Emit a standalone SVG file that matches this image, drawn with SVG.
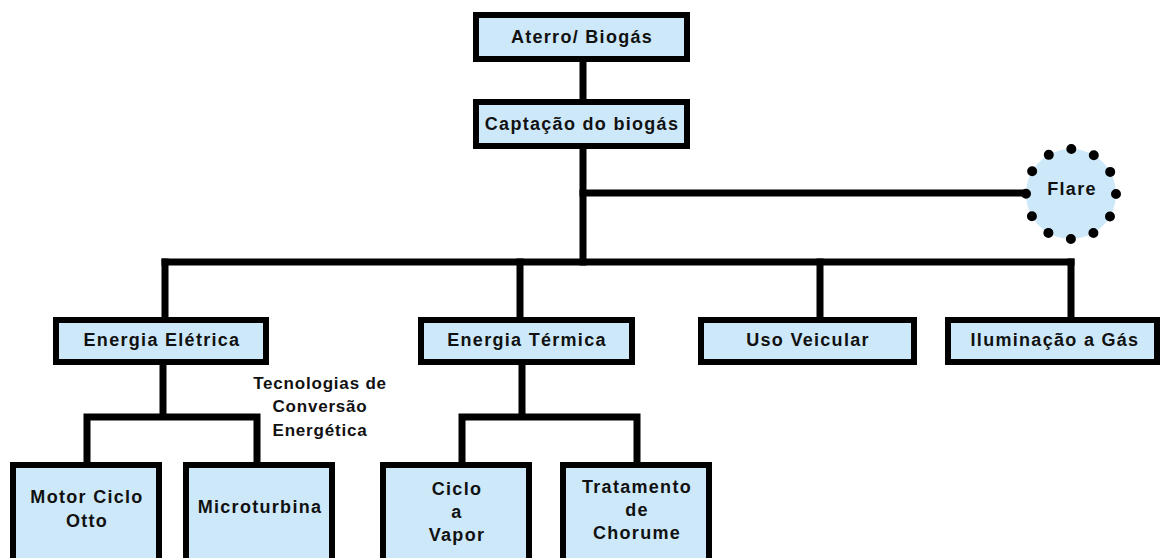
<svg xmlns="http://www.w3.org/2000/svg" width="1160" height="558" viewBox="0 0 1160 558">
<style>
.box{fill:#cde9f9;stroke:#000;stroke-width:6}
.ln{fill:none;stroke:#000;stroke-width:7;stroke-linecap:square}
text{font-family:"Liberation Sans",Arial,sans-serif;font-weight:bold;font-size:18px;letter-spacing:1.3px;fill:#111;text-anchor:middle}
.note{font-size:17px;letter-spacing:0.8px}
</style>
<rect width="1160" height="558" fill="#fff"/>
<g id="connectors">
<path class="ln" d="M583 60V100"/>
<path class="ln" d="M583 148V262"/>
<path class="ln" d="M583 193H1026"/>
<path class="ln" d="M165 262H1071"/>
<path class="ln" d="M165 262V318M520 262V318M820 262V318M1071 262V318"/>
<path class="ln" d="M163 365V417M87 417H257M87 417V462M257 417V462"/>
<path class="ln" d="M522 365V417M462 417H637M462 417V462M637 417V462"/>
</g>
<g id="n-aterro"><rect class="box" x="476" y="15" width="211" height="44"/><text x="582" y="43">Aterro/ Biogás</text></g>
<g id="n-captacao"><rect class="box" x="476" y="102" width="211" height="44"/><text x="582" y="130">Captação do biogás</text></g>
<g id="n-flare"><circle cx="1071" cy="194" r="45" fill="#cde9f9" stroke="#000" stroke-width="10" stroke-linecap="round" stroke-dasharray="0 23.562"/><text x="1072" y="195" font-size="17">Flare</text></g>
<g id="n-eletrica"><rect class="box" x="56" y="320" width="210" height="42"/><text x="162" y="346">Energia Elétrica</text></g>
<g id="n-termica"><rect class="box" x="421" y="320" width="211" height="42"/><text x="527" y="346">Energia Térmica</text></g>
<g id="n-veicular"><rect class="box" x="701" y="320" width="213" height="42"/><text x="808" y="346">Uso Veicular</text></g>
<g id="n-iluminacao"><rect class="box" x="948" y="320" width="209" height="42"/><text x="1055" y="346">Iluminação a Gás</text></g>
<g id="n-tecnologias"><text class="note" x="320" y="389">Tecnologias de</text><text class="note" x="320" y="412">Conversão</text><text class="note" x="320" y="436">Energética</text></g>
<g id="n-motor"><rect class="box" x="13" y="465" width="146" height="100"/><text x="87" y="503">Motor Ciclo</text><text x="87" y="527">Otto</text></g>
<g id="n-micro"><rect class="box" x="186" y="465" width="146" height="100"/><text x="260" y="513">Microturbina</text></g>
<g id="n-vapor"><rect class="box" x="383" y="465" width="146" height="100"/><text x="457" y="495">Ciclo</text><text x="457" y="518">a</text><text x="457" y="541">Vapor</text></g>
<g id="n-chorume"><rect class="box" x="563" y="465" width="146" height="100"/><text x="637" y="493">Tratamento</text><text x="637" y="516">de</text><text x="637" y="539">Chorume</text></g>
</svg>
